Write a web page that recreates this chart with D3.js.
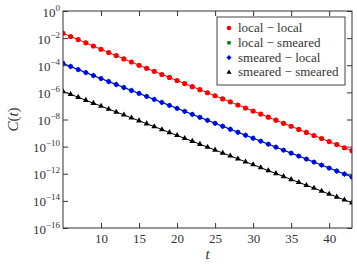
<!DOCTYPE html>
<html>
<head>
<meta charset="utf-8">
<script src="https://cdn.jsdelivr.net/npm/d3@7"></script>
<style>
  body { margin: 0; background: #fff; }
</style>
</head>
<body>
<div id="chart"></div>
<script>
// t values (time slices)
const tValues = d3.range(5, 44);

// log10 C(t)
const localLocal = [-1.64, -1.88, -2.11, -2.35, -2.58, -2.82, -3.06, -3.29, -3.53, -3.76,
  -4.00, -4.23, -4.45, -4.68, -4.90, -5.13, -5.35, -5.58, -5.80, -6.03,
  -6.25, -6.48, -6.70, -6.93, -7.15, -7.38, -7.60, -7.83, -8.05, -8.28,
  -8.50, -8.73, -8.95, -9.18, -9.40, -9.63, -9.85, -10.08, -10.30];
const smearedLocal = [-3.86, -4.09, -4.32, -4.54, -4.76, -4.98, -5.20, -5.42, -5.64, -5.86,
  -6.08, -6.30, -6.52, -6.74, -6.96, -7.18, -7.40, -7.62, -7.84, -8.06,
  -8.28, -8.50, -8.72, -8.94, -9.16, -9.38, -9.60, -9.82, -10.04, -10.26,
  -10.48, -10.70, -10.92, -11.14, -11.36, -11.58, -11.80, -12.02, -12.24];
// local-smeared sits under smeared-local
const localSmeared = smearedLocal.slice();
const smearedSmeared = [-5.92, -6.14, -6.36, -6.58, -6.80, -7.01, -7.23, -7.45, -7.66, -7.88,
  -8.09, -8.31, -8.52, -8.74, -8.96, -9.17, -9.39, -9.60, -9.82, -10.03,
  -10.25, -10.47, -10.68, -10.90, -11.12, -11.33, -11.55, -11.77, -11.98, -12.20,
  -12.42, -12.63, -12.85, -13.06, -13.28, -13.50, -13.71, -13.93, -14.15];

const seriesNames = ["local \u2212 local", "local \u2212 smeared", "smeared \u2212 local", "smeared \u2212 smeared"];
const seriesColors = ["#ff0000", "#008000", "#0000ff", "#000000"];
const seriesSymbols = [d3.symbolCircle, d3.symbolSquare, d3.symbolSquare, d3.symbolTriangle];
const seriesRotate = [0, 0, 45, 0];
const seriesData = [localLocal, localSmeared, smearedLocal, smearedSmeared];

const xTicks = [10, 15, 20, 25, 30, 35, 40];
const yTickExps = [0, -2, -4, -6, -8, -10, -12, -14, -16];

const width = 357, height = 264;
const margin = {top: 11, right: 5, bottom: 36, left: 63};
const innerW = width - margin.left - margin.right;
const innerH = height - margin.top - margin.bottom;
const serif = '"Liberation Serif", "DejaVu Serif", serif';

const svg = d3.select("#chart").append("svg")
  .attr("width", width)
  .attr("height", height)
  .style("font-family", serif);

const g = svg.append("g")
  .attr("transform", `translate(${margin.left},${margin.top})`);

const x = d3.scaleLinear().domain([5, 43]).range([0, innerW]);
const y = d3.scaleLog().domain([1e-16, 1]).range([innerH, 0]);

// clip so nothing leaves the frame
g.append("clipPath").attr("id", "clip")
  .append("rect").attr("width", innerW).attr("height", innerH);

const plot = g.append("g").attr("clip-path", "url(#clip)");

const line = d3.line()
  .x((d, i) => x(tValues[i]))
  .y(d => y(Math.pow(10, d)));

const sizes = [21, 16, 17, 15];

seriesData.forEach((vals, s) => {
  plot.append("path")
    .attr("d", line(vals))
    .attr("fill", "none")
    .attr("stroke", seriesColors[s])
    .attr("stroke-width", 1);
  plot.append("g").selectAll("path")
    .data(vals).enter()
    .append("path")
    .attr("transform", (d, i) => `translate(${x(tValues[i])},${y(Math.pow(10, d))}) rotate(${seriesRotate[s]})`)
    .attr("d", d3.symbol().type(seriesSymbols[s]).size(sizes[s]))
    .attr("fill", seriesColors[s]);
});

/* axes with inward ticks */
const frameColor = "#333";
const xAxisB = d3.axisBottom(x).tickValues(xTicks).tickSizeInner(-5).tickSizeOuter(0).tickPadding(6);
const xAxisT = d3.axisTop(x).tickValues(xTicks).tickSizeInner(-5).tickSizeOuter(0).tickFormat("");
const yAxisL = d3.axisLeft(y).tickValues(yTickExps.map(e => Math.pow(10, e))).tickSizeInner(-5).tickSizeOuter(0).tickFormat("");
const yAxisR = d3.axisRight(y).tickValues(yTickExps.map(e => Math.pow(10, e))).tickSizeInner(-5).tickSizeOuter(0).tickFormat("");

const gx = g.append("g").attr("transform", `translate(0,${innerH})`).call(xAxisB);
g.append("g").call(xAxisT);
const gy = g.append("g").call(yAxisL);
g.append("g").attr("transform", `translate(${innerW},0)`).call(yAxisR);

g.selectAll(".domain").remove();
g.selectAll(".tick line").attr("stroke", frameColor);
g.selectAll("g").attr("font-family", null);
gx.selectAll(".tick text")
  .attr("font-size", 13)
  .attr("fill", "#333")
  .style("font-family", serif);

// y tick labels as 10^exp
gy.selectAll(".tick").each(function(d) {
  const e = Math.round(Math.log10(d));
  const t = d3.select(this).append("text")
    .attr("x", -3)
    .attr("y", 5)
    .attr("text-anchor", "end")
    .attr("font-size", 13)
    .attr("fill", "#333")
    .style("font-family", serif);
  t.append("tspan").text("10");
  t.append("tspan")
    .attr("font-size", 9)
    .attr("dy", -6)
    .text(e === 0 ? "0" : "\u2212" + Math.abs(e));
});

g.append("rect")
  .attr("width", innerW)
  .attr("height", innerH)
  .attr("fill", "none")
  .attr("stroke", frameColor)
  .attr("stroke-width", 1);

/* axis labels */
svg.append("text")
  .attr("x", margin.left + innerW / 2)
  .attr("y", 259)
  .attr("text-anchor", "middle")
  .attr("font-size", 15)
  .attr("font-style", "italic")
  .attr("fill", "#333")
  .text("t");

svg.append("text")
  .attr("transform", `translate(18,${margin.top + innerH / 2}) rotate(-90)`)
  .attr("text-anchor", "middle")
  .attr("font-size", 15)
  .attr("fill", "#333")
  .html('<tspan font-style="italic">C</tspan>(<tspan font-style="italic">t</tspan>)');

/* legend */
const legend = svg.append("g").attr("transform", "translate(217,17)");
legend.append("rect")
  .attr("width", 128)
  .attr("height", 68)
  .attr("fill", "#fff")
  .attr("stroke", "#444")
  .attr("stroke-width", 1);

seriesNames.forEach((name, s) => {
  const row = legend.append("g").attr("transform", `translate(0,${11 + s * 14.8})`);
  row.append("path")
    .attr("transform", `translate(12,0) rotate(${seriesRotate[s]})`)
    .attr("d", d3.symbol().type(seriesSymbols[s]).size(sizes[s] * 0.75))
    .attr("fill", seriesColors[s]);
  row.append("text")
    .attr("x", 21)
    .attr("y", 4)
    .attr("font-size", 13)
    .attr("fill", "#333")
    .text(name);
});
</script>
</body>
</html>
